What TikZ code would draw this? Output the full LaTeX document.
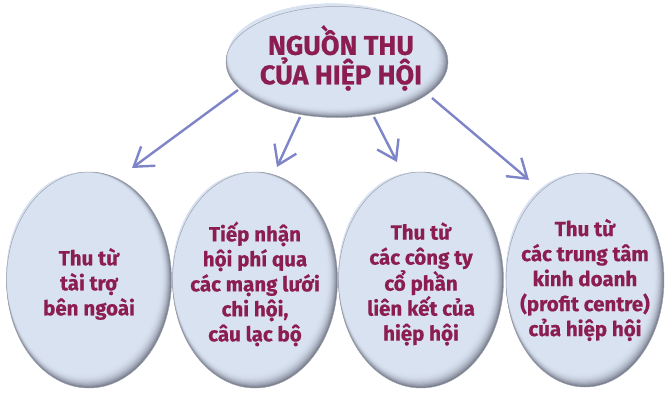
\documentclass[tikz,border=0pt]{standalone}
\usepackage{fontspec}
\setmainfont{Fira Sans}[BoldFeatures={FakeBold=0.6}]
\usetikzlibrary{arrows.meta,shapes.geometric}
\definecolor{txtc}{HTML}{8C1D50}
\definecolor{arrc}{HTML}{7D84C7}
\definecolor{ellin}{HTML}{D9E2F1}
\definecolor{ellout}{HTML}{767B8A}
\definecolor{ellline}{HTML}{9DA2AE}
\newcommand\ellgrad[4]{%
  \foreach \k in {0,...,14}{%
    \pgfmathsetmacro\f{1-0.005*\k}%
    \pgfmathsetmacro\pc{100*(1-\k/14)^2.5}%
    \fill[ellout!\pc!ellin] (#1-0.4*\k, #2-0.5*\k) ellipse [x radius=#3*\f, y radius=#4*\f];
  }%
  \draw[ellline, line width=0.5pt] (#1,#2) ellipse [x radius=#3, y radius=#4];
}
\tikzset{
  ell/.style={ellipse, inner sep=0pt},
  lbl/.style={align=center, text=txtc, font=\bfseries\fontsize{20.5}{25}\selectfont},
  toplbl/.style={align=center, text=txtc, font=\bfseries\fontsize{27}{29.5}\selectfont},
  arr/.style={draw=arrc, line width=2.4pt, -{Straight Barb[length=18pt,width=24pt]}}
}
\begin{document}
\begin{tikzpicture}[x=1pt,y=-1pt]
\useasboundingbox (0,0) rectangle (665,392);
\ellgrad{337}{62}{111}{55.5}
\ellgrad{89}{280}{82.5}{108}
\ellgrad{255}{280}{82.5}{108}
\ellgrad{421}{280}{82.5}{108}
\ellgrad{585}{280}{79}{107}
\node[ell, minimum width=222pt, minimum height=111pt] (top) at (337,62) {};
\node[ell, minimum width=165pt, minimum height=216pt] (e1) at (89,280) {};
\node[ell, minimum width=165pt, minimum height=216pt] (e2) at (255,280) {};
\node[ell, minimum width=165pt, minimum height=216pt] (e3) at (421,280) {};
\node[ell, minimum width=158pt, minimum height=214pt] (e4) at (585,280) {};
\node[toplbl] (toptxt) at (341,58) {NGUỒN THU\\CỦA HIỆP HỘI};
\node[lbl] (l1) at (89,284) {Thu từ\\tài trợ\\bên ngoài};
\node[lbl] (l2) at (255,284) {Tiếp nhận\\hội phí qua\\các mạng lưới\\chi hội,\\câu lạc bộ};
\node[lbl] (l3) at (421,284) {Thu từ\\các công ty\\cổ phần\\liên kết của\\hiệp hội};
\node[lbl] (l4) at (585,280) {Thu từ\\các trung tâm\\kinh doanh\\(profit centre)\\của hiệp hội};
\coordinate (s1) at (238,90);
\coordinate (s2) at (300,117);
\coordinate (s3) at (374,117);
\coordinate (s4) at (432,98);
\coordinate (t1) at (132,168);
\coordinate (t2) at (277,167);
\coordinate (t3) at (397,162);
\coordinate (t4) at (529,180);
\draw[arr] (s1) -- (t1);
\draw[arr] (s2) -- (t2);
\draw[arr] (s3) -- (t3);
\draw[arr] (s4) -- (t4);
\end{tikzpicture}
\end{document}
